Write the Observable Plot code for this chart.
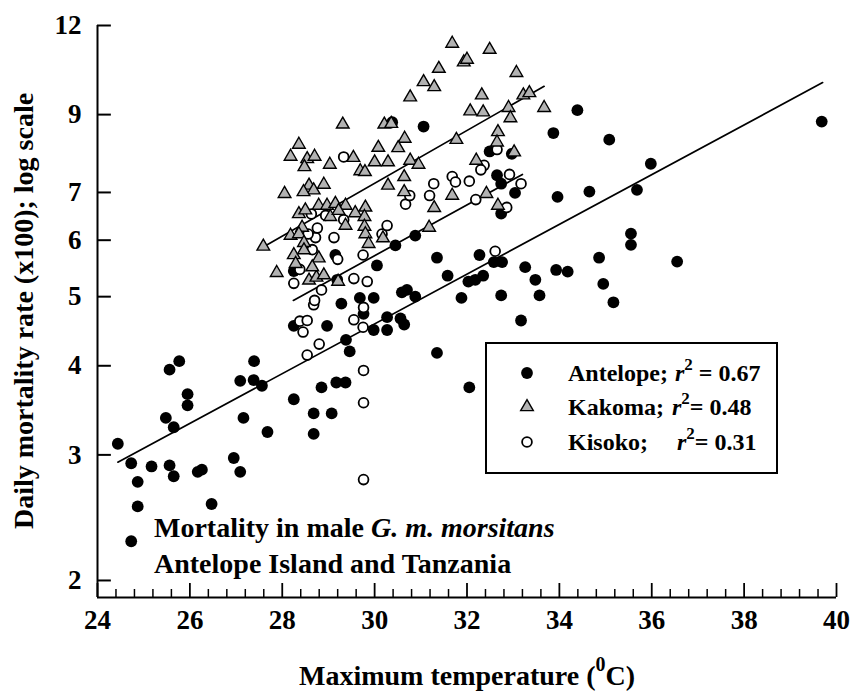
<!DOCTYPE html>
<html><head><meta charset="utf-8">
<script src="https://cdn.jsdelivr.net/npm/d3@7"></script>
<script src="https://cdn.jsdelivr.net/npm/@observablehq/plot@0.6"></script>
<style>html,body{margin:0;padding:0;background:#fff} svg{display:block}</style>
</head><body><div id="chart"></div>
<script>
// ---- data ----
const antelope = [
[24.44,3.11],[24.73,2.92],[24.87,2.75],[24.87,2.54],[24.73,2.27],[25.17,2.89],[25.48,3.38],[25.65,3.28],
[25.56,3.95],[25.77,4.06],[25.95,3.65],[25.95,3.52],[25.56,2.90],[25.65,2.80],[26.17,2.84],[26.26,2.86],
[26.47,2.56],[26.95,2.97],[27.09,2.84],[27.16,3.38],[27.09,3.81],[27.39,4.06],[27.38,3.82],[27.56,3.75],
[27.68,3.23],[28.25,3.59],[28.85,3.73],[29.17,3.79],[29.37,3.79],[28.68,3.43],[29.07,3.43],[28.68,3.21],
[32.05,3.73],[29.46,4.19],[29.38,4.35],[29.98,4.49],[30.27,4.49],[30.27,4.68],[29.76,4.73],[29.28,4.89],
[29.68,4.98],[29.98,4.98],[30.56,4.66],[30.64,4.57],[30.59,5.07],[30.70,5.11],[30.88,5.00],[30.05,5.53],
[30.45,5.90],[30.88,6.09],[31.35,5.67],[31.58,5.35],[31.35,4.17],[31.88,4.98],[32.03,5.25],[32.18,5.28],
[32.35,5.35],[32.27,5.72],[32.58,5.59],[32.76,5.59],[32.74,5.02],[33.17,4.63],[33.26,5.50],[33.48,5.28],
[33.57,5.02],[33.93,5.45],[28.25,4.55],[28.97,4.55],[29.19,5.28],[28.25,5.43],[29.15,5.72],[32.74,6.54],
[30.38,8.78],[31.06,8.66],[33.87,8.48],[32.49,7.99],[32.97,7.93],[32.65,7.40],[32.74,7.20],[33.04,6.99],
[34.39,9.13],[35.08,8.30],[35.98,7.68],[35.68,7.06],[34.65,7.02],[33.96,6.90],[35.55,6.13],[35.55,5.91],
[34.86,5.67],[34.18,5.42],[36.55,5.60],[34.95,5.21],[35.17,4.91],[39.68,8.80]
];
const kakoma = [
[27.59,5.88],[27.88,5.40],[28.18,6.09],[28.36,6.53],[28.50,6.61],[28.79,6.71],[28.97,6.71],[29.15,6.75],
[29.37,6.71],[29.58,6.55],[29.80,6.67],[29.78,6.47],[29.37,6.29],[29.78,6.27],[29.80,6.12],[28.43,6.25],
[28.36,6.12],[28.47,5.95],[28.25,5.72],[28.47,5.81],[28.79,5.66],[28.58,5.27],[28.74,5.32],[28.90,5.36],
[29.21,5.25],[29.87,5.93],[30.18,6.04],[31.18,6.25],[31.29,6.66],[32.67,6.71],[31.68,11.32],[32.49,11.10],
[31.93,10.66],[32.00,10.75],[31.39,10.44],[31.06,10.00],[31.29,9.84],[30.77,9.52],[33.07,10.30],[32.32,9.58],
[33.22,9.58],[33.35,9.65],[33.67,9.20],[32.07,9.10],[32.35,9.07],[32.90,9.20],[32.94,8.90],[32.67,8.51],
[32.65,8.23],[33.02,7.97],[29.31,8.72],[30.21,8.72],[30.36,8.74],[30.65,8.33],[30.08,8.09],[30.51,8.08],
[28.36,8.17],[28.18,7.86],[28.54,7.80],[28.70,7.86],[28.48,7.60],[29.03,7.66],[29.54,7.83],[29.69,7.50],
[29.79,7.48],[30.00,7.72],[30.29,7.72],[30.77,7.76],[30.95,7.66],[31.77,8.30],[30.64,7.36],[30.29,7.16],
[28.05,6.97],[28.58,7.16],[28.68,7.05],[28.90,7.18],[28.46,7.01],[31.68,6.93],[32.20,7.76],[32.42,6.97],
[30.64,7.01],[29.04,6.47],[29.22,6.60],[28.65,5.50],[28.29,5.56]
];
const kisoko = [
[29.76,3.55],[29.76,2.77],[29.76,3.94],[28.54,4.14],[28.80,4.29],[29.75,4.53],[29.76,4.83],[29.55,4.64],
[28.38,4.62],[28.54,4.63],[28.45,4.46],[28.68,4.87],[28.70,4.94],[28.85,5.11],[29.55,5.30],[29.84,5.25],
[28.25,5.22],[28.38,5.46],[29.20,5.64],[29.75,5.72],[30.16,6.12],[30.27,6.29],[28.65,5.82],[28.72,6.05],
[28.76,6.24],[29.12,6.05],[28.56,6.12],[29.33,6.41],[28.94,6.50],[28.63,6.53],[30.67,6.74],[32.61,5.79],
[32.86,6.67],[32.65,8.04],[32.37,7.64],[32.30,7.53],[32.92,7.42],[33.17,7.20],[32.19,6.84],[31.68,7.37],
[31.75,7.24],[32.05,7.26],[31.28,7.20],[31.19,6.93],[30.76,6.93],[29.33,7.85]
];
// regression lines (end points)
const antelopeFit = [[24.44,2.93],[39.70,9.98]];
const kakomaFit = [[27.57,5.86],[33.67,9.86]];
const kisokoFit = [[28.24,4.94],[33.20,7.42]];

const yTicks = [2,3,4,5,6,7,9,12];
const xTicks = [24,26,28,30,32,34,36,38,40];
const xMinorTicks = d3.range(24, 40.001, 0.4).filter(v => Math.abs(v/2 - Math.round(v/2)) > 1e-6);
const seriesNames = ["Antelope", "Kakoma", "Kisoko"];
const r2Values = ["0.67", "0.48", "0.31"];
const yLabel = "Daily mortality rate (x100); log scale";
const noteLine1 = "Mortality in male ";
const noteItalic = "G. m. morsitans";
const noteLine2 = "Antelope Island and Tanzania";

// ---- plot ----
const yMin = 1.893, yMax = 12;
const serif = "'Liberation Serif', 'Times New Roman', serif";
const xy = {x: d => d[0], y: d => d[1]};
const chart = Plot.plot({
  width: 852, height: 691,
  marginLeft: 97, marginRight: 16, marginTop: 25, marginBottom: 94,
  style: {fontFamily: serif, fontWeight: "bold", fontSize: "27px", color: "black", background: "white"},
  x: {type: "linear", domain: [24, 40], axis: null},
  y: {type: "log", domain: [yMin, yMax], axis: null},
  marks: [
    Plot.ruleX([24], {stroke: "black", strokeWidth: 2}),
    Plot.ruleY([yMin], {stroke: "black", strokeWidth: 2}),
    Plot.ruleY(yTicks, {x1: 24, x2: 24.3, stroke: "black", strokeWidth: 2}),
    Plot.ruleX(xTicks, {y1: yMin, y2: yMin * 1.0462, stroke: "black", strokeWidth: 1.8}),
    Plot.ruleX(xMinorTicks, {y1: yMin, y2: yMin * 1.0262, stroke: "black", strokeWidth: 1.5}),
    Plot.axisX({ticks: xTicks, tickSize: 0, tickPadding: 12, tickFormat: d => String(d), fontSize: 27, fontWeight: "bold", fontFamily: serif, label: null}),
    Plot.axisY({ticks: yTicks, tickSize: 0, tickPadding: 16, tickFormat: d => String(d), fontSize: 27, fontWeight: "bold", fontFamily: serif, label: null}),
    Plot.line(antelopeFit, {...xy, stroke: "black", strokeWidth: 1.7}),
    Plot.line(kakomaFit, {...xy, stroke: "black", strokeWidth: 1.7}),
    Plot.line(kisokoFit, {...xy, stroke: "black", strokeWidth: 1.7}),
    Plot.dot(antelope, {...xy, r: 5.9, fill: "black", stroke: "none"}),
    Plot.dot(kisoko, {...xy, r: 4.9, fill: "white", stroke: "black", strokeWidth: 1.8}),
    Plot.dot(kakoma, {...xy, symbol: "triangle", r: 4.7, fill: "#b2b2b2", stroke: "black", strokeWidth: 1.4})
  ]
});
document.getElementById("chart").appendChild(chart);

// ---- titles, annotation and legend ----
const svg = d3.select(chart);
const g = svg.append("g").attr("font-family", serif).attr("font-weight", "bold").attr("fill", "black");

// y title
g.append("text").attr("transform", "translate(33,311) rotate(-90)").attr("text-anchor", "middle")
  .attr("font-size", 28).text(yLabel);

// x title with superscript
const xt = g.append("text").attr("x", 467).attr("y", 685).attr("text-anchor", "middle").attr("font-size", 28);
xt.append("tspan").text("Maximum temperature (");
xt.append("tspan").attr("dy", -14).attr("font-size", 20).text("0");
xt.append("tspan").attr("dy", 14).text("C)");

// annotation
const n1 = g.append("text").attr("x", 154).attr("y", 537).attr("text-anchor", "start").attr("font-size", 28);
n1.append("tspan").text(noteLine1);
n1.append("tspan").attr("font-style", "italic").text(noteItalic);
g.append("text").attr("x", 154).attr("y", 573).attr("text-anchor", "start").attr("font-size", 28).text(noteLine2);

// legend
const lg = g.append("g");
lg.append("rect").attr("x", 486).attr("y", 343).attr("width", 291).attr("height", 130)
  .attr("fill", "white").attr("stroke", "black").attr("stroke-width", 2);
const rowY = [381, 415, 450];
const rX = [675, 672, 677];
const eqText = [" = ", "= ", "= "];
const sym = [
  s => s.append("circle").attr("r", 5.9).attr("fill", "black"),
  s => s.append("path").attr("d", d3.symbol(d3.symbolTriangle, Math.PI * 4.7 * 4.7)()).attr("fill", "#b2b2b2").attr("stroke", "black").attr("stroke-width", 1.4),
  s => s.append("circle").attr("r", 4.9).attr("fill", "white").attr("stroke", "black").attr("stroke-width", 1.8)
];
seriesNames.forEach((name, i) => {
  const s = lg.append("g").attr("transform", `translate(527,${rowY[i] - 8})`);
  sym[i](s);
  const t = lg.append("text").attr("x", 568).attr("y", rowY[i]).attr("text-anchor", "start").attr("font-size", 24);
  t.append("tspan").text(name + ";");
  t.append("tspan").attr("x", rX[i]).attr("font-style", "italic").text("r");
  t.append("tspan").attr("dy", -11).attr("font-size", 17).text("2");
  t.append("tspan").attr("dy", 11).attr("xml:space", "preserve").text(eqText[i] + r2Values[i]);
});
</script>
</body></html>
